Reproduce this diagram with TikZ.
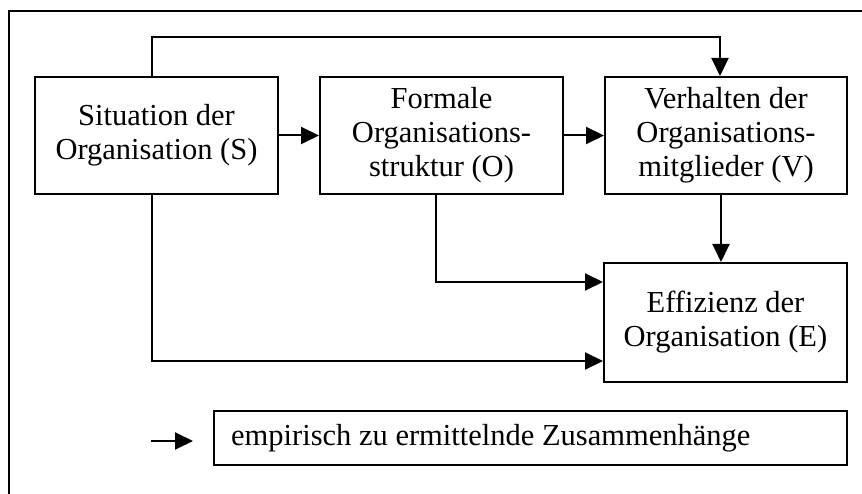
\documentclass[tikz,border=0pt]{standalone}
\usepackage{fontspec}
\setmainfont{Liberation Serif}
\usetikzlibrary{arrows.meta}
\begin{document}
\begin{tikzpicture}[x=1pt,y=-1pt,
  box/.style={draw,line width=2pt,align=center,inner sep=0pt,
    font=\fontsize{30.5}{34}\selectfont},
  link/.style={line width=2pt,-{Triangle[length=18pt,width=17pt]}},
  frame/.style={line width=2.2pt}]
  \useasboundingbox (0,0) rectangle (862,494);
  \clip (0,0) rectangle (862,494);

  % outer frame (runs past the page on the right and bottom)
  \draw[frame] (9,520) -- (9,11) -- (880,11);

  % main blocks
  \node[box,minimum width=243pt,minimum height=117pt] (S) at (156.5,135.5)
    {Situation der\\Organisation (S)};
  \node[box,minimum width=243pt,minimum height=117pt] (O) at (441.5,135.5)
    {Formale\\Organisations-\\struktur (O)};
  \node[box,minimum width=242pt,minimum height=117pt] (V) at (726,135.5)
    {Verhalten der\\Organisations-\\mitglieder (V)};
  \node[box,minimum width=243pt,minimum height=119pt] (E) at (725.5,322.5)
    {Effizienz der\\Organisation (E)};

  % connectors
  \draw[link] ([xshift=-4.5pt]S.north) -- ++(0,-39) -| ([xshift=-6pt]V.north);
  \draw[link] (S.east) -- (O.west);
  \draw[link] (O.east) -- (V.west);
  \draw[link] ([xshift=-5pt]V.south) -- ([xshift=-5pt]V.south |- E.north);
  \draw[link] ([xshift=-5.5pt]O.south) |- ([yshift=40.5pt]E.west);
  \draw[link] ([xshift=-4.5pt]S.south) |- ([yshift=-38.5pt]E.west);

  % legend
  \node[box,minimum width=633pt,minimum height=54pt] (L) at (530.5,438) {};
  \node[anchor=west,inner sep=0pt,font=\fontsize{30.5}{34}\selectfont]
    (Lt) at (231,438) {empirisch zu ermittelnde Zusammenhänge};
  \coordinate (la) at (151,441);
  \coordinate (lb) at (193,441);
  \draw[link] (la) -- (lb);
\end{tikzpicture}
\end{document}
